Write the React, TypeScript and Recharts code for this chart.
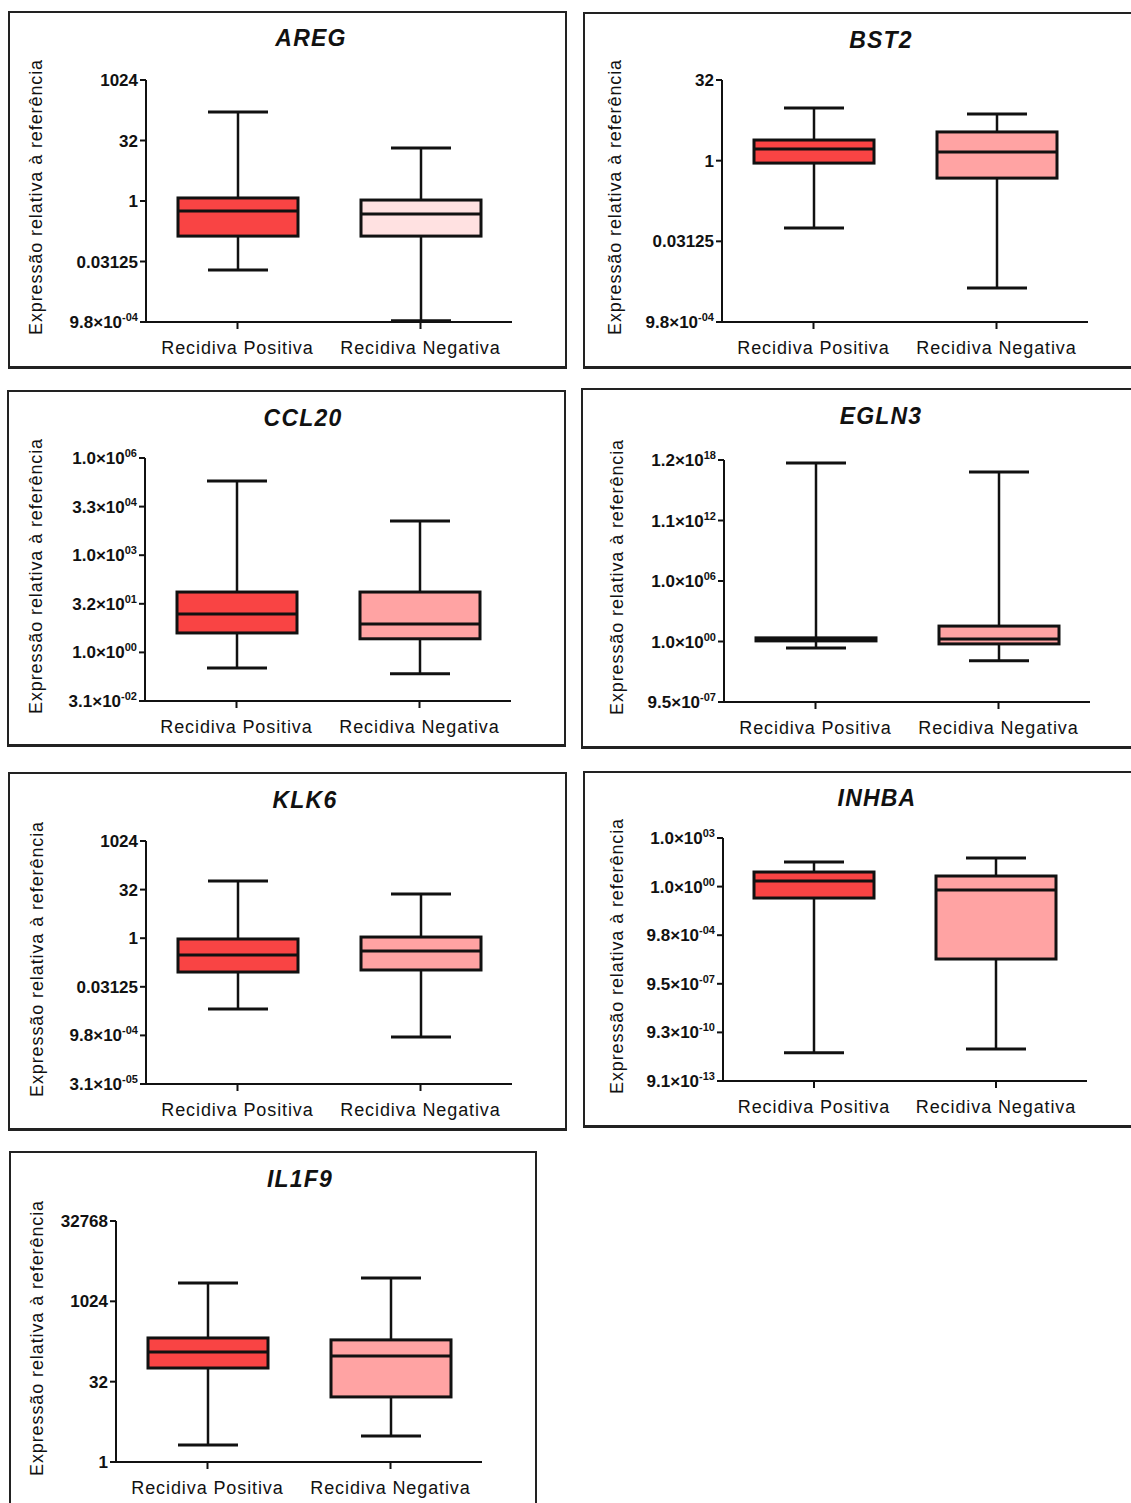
import React from 'react';
import { ComposedChart, Bar, XAxis, YAxis } from 'recharts';

const groups = ['Recidiva Positiva', 'Recidiva Negativa'];

// log2 da expressão relativa: [mínimo, Q1, mediana, Q3, máximo]
const aregPositiva = [-5.7, -2.9, -0.83, 0.25, 7.36];
const aregNegativa = [-9.9, -2.9, -1.07, 0.08, 4.38];
const aregTicks = [-10, -5, 0, 5, 10];
const aregLabels = ['9.8×10^-04', '0.03125', '1', '32', '1024'];

const bst2Positiva = [-4.18, -0.15, 0.72, 1.28, 3.26];
const bst2Negativa = [-7.9, -1.08, 0.54, 1.78, 2.89];
const bst2Ticks = [-10, -5, 0, 5];
const bst2Labels = ['9.8×10^-04', '0.03125', '1', '32'];

const ccl20Positiva = [-1.6, 2.0, 3.95, 6.21, 17.63];
const ccl20Negativa = [-2.2, 1.4, 2.92, 6.21, 13.52];
const ccl20Ticks = [-5, 0, 5, 10, 15, 20];
const ccl20Labels = ['3.1×10^-02', '1.0×10^00', '3.2×10^01', '1.0×10^03', '3.3×10^04', '1.0×10^06'];

const egln3Positiva = [-2.15, 0.2, 0.7, 1.2, 59];
const egln3Negativa = [-6.4, -0.8, 0.8, 5.1, 56];
const egln3Ticks = [-20, 0, 20, 40, 60];
const egln3Labels = ['9.5×10^-07', '1.0×10^00', '1.0×10^06', '1.1×10^12', '1.2×10^18'];

const klk6Positiva = [-7.28, -3.48, -1.73, -0.08, 5.88];
const klk6Negativa = [-10.16, -3.27, -1.32, 0.12, 4.55];
const klk6Ticks = [-15, -10, -5, 0, 5, 10];
const klk6Labels = ['3.1×10^-05', '9.8×10^-04', '0.03125', '1', '32', '1024'];

const inhbaPositiva = [-34.2, -2.35, 1.15, 3.0, 5.06];
const inhbaNegativa = [-33.4, -14.9, -0.7, 2.18, 5.88];
const inhbaTicks = [-40, -30, -20, -10, 0, 10];
const inhbaLabels = ['9.1×10^-13', '9.3×10^-10', '9.5×10^-07', '9.8×10^-04', '1.0×10^00', '1.0×10^03'];

const il1f9Positiva = [1.06, 5.85, 6.85, 7.72, 11.14];
const il1f9Negativa = [1.62, 4.05, 6.6, 7.6, 11.45];
const il1f9Ticks = [0, 5, 10, 15];
const il1f9Labels = ['1', '32', '1024', '32768'];

const FONT = '"Liberation Sans", Arial, Helvetica, sans-serif';
const RED = '#F94444';
const PINK = '#FFA3A3';
const LIGHT_PINK = '#FFE1E1';
const INK = '#111';
const BOX_W = 120;

const panels = [
  { name: 'AREG', pos: aregPositiva, neg: aregNegativa, ticks: aregTicks, labels: aregLabels, negFill: LIGHT_PINK,
    box: { x: 8, y: 11, w: 559, h: 358 }, plot: { l: 146, t: 80, r: 512, b: 322 }, title: { x: 311, y: 38 }, labelX: 36 },
  { name: 'BST2', pos: bst2Positiva, neg: bst2Negativa, ticks: bst2Ticks, labels: bst2Labels, negFill: PINK,
    box: { x: 583, y: 12, w: 560, h: 357 }, plot: { l: 722, t: 80, r: 1088, b: 322 }, title: { x: 881, y: 40 }, labelX: 615 },
  { name: 'CCL20', pos: ccl20Positiva, neg: ccl20Negativa, ticks: ccl20Ticks, labels: ccl20Labels, negFill: PINK,
    box: { x: 7, y: 390, w: 559, h: 357 }, plot: { l: 145, t: 458, r: 511, b: 701 }, title: { x: 303, y: 418 }, labelX: 36 },
  { name: 'EGLN3', pos: egln3Positiva, neg: egln3Negativa, ticks: egln3Ticks, labels: egln3Labels, negFill: PINK,
    box: { x: 581, y: 388, w: 560, h: 361 }, plot: { l: 724, t: 460, r: 1090, b: 702 }, title: { x: 881, y: 416 }, labelX: 617 },
  { name: 'KLK6', pos: klk6Positiva, neg: klk6Negativa, ticks: klk6Ticks, labels: klk6Labels, negFill: PINK,
    box: { x: 8, y: 772, w: 559, h: 359 }, plot: { l: 146, t: 841, r: 512, b: 1084 }, title: { x: 305, y: 800 }, labelX: 37 },
  { name: 'INHBA', pos: inhbaPositiva, neg: inhbaNegativa, ticks: inhbaTicks, labels: inhbaLabels, negFill: PINK,
    box: { x: 583, y: 771, w: 560, h: 357 }, plot: { l: 723, t: 838, r: 1087, b: 1081 }, title: { x: 877, y: 798 }, labelX: 617 },
  { name: 'IL1F9', pos: il1f9Positiva, neg: il1f9Negativa, ticks: il1f9Ticks, labels: il1f9Labels, negFill: PINK,
    box: { x: 9, y: 1151, w: 528, h: 360 }, plot: { l: 116, t: 1221, r: 482, b: 1462 }, title: { x: 300, y: 1179 }, labelX: 37 },
];

function YTick(props: any) {
  const { x, y, payload, ticks, labels } = props;
  const label: string = labels[ticks.indexOf(payload.value)] ?? '';
  const [base, exp] = label.split('^');
  return (
    <text x={x} y={y} dy={6} textAnchor="end" fontFamily={FONT} fontWeight="bold" fontSize={17} fill={INK}>
      {base}
      {exp && (
        <tspan fontSize={11} dy={-7}>
          {exp}
        </tspan>
      )}
    </text>
  );
}

function XTick(props: any) {
  const { x, y, payload } = props;
  return (
    <text x={x} y={y} dy={23} textAnchor="middle" fontFamily={FONT} fontSize={18} letterSpacing={0.9} fill={INK}>
      {payload.value}
    </text>
  );
}

const Whisker = (props: any) => {
  const { x, y, width, height } = props;
  const cx = x + width / 2;
  return (
    <g stroke={INK} fill="none">
      <line x1={cx} x2={cx} y1={y} y2={y + height} strokeWidth={2.5} />
      <line x1={cx - 30} x2={cx + 30} y1={y} y2={y} strokeWidth={3} />
      <line x1={cx - 30} x2={cx + 30} y1={y + height} y2={y + height} strokeWidth={3} />
    </g>
  );
};

const BoxShape = (props: any) => {
  const { x, y, width, height, payload } = props;
  return <rect x={x} y={y} width={width} height={Math.max(height, 0)} fill={payload.fill} stroke={INK} strokeWidth={3} />;
};

const MedianShape = (props: any) => {
  const { x, y, width } = props;
  return <line x1={x} x2={x + width} y1={y} y2={y} stroke={INK} strokeWidth={3} />;
};

function Panel({ p }: { p: (typeof panels)[number] }) {
  const rows = groups.map((g, i) => {
    const v = i === 0 ? p.pos : p.neg;
    return { name: g, min: v[0], q1: v[1], med: v[2], q3: v[3], max: v[4], fill: i === 0 ? RED : p.negFill };
  });
  const yAxisW = 80;
  const xAxisH = 40;
  const margin = {
    top: p.plot.t - p.box.y,
    left: p.plot.l - p.box.x - yAxisW,
    right: p.box.x + p.box.w - p.plot.r,
    bottom: p.box.y + p.box.h - p.plot.b - xAxisH,
  };
  const domain = [p.ticks[0], p.ticks[p.ticks.length - 1]];
  const plotMidY = (p.plot.t + p.plot.b) / 2;

  return (
    <>
      <div
        style={{
          position: 'absolute',
          left: p.box.x,
          top: p.box.y,
          width: p.box.w,
          height: p.box.h,
          boxSizing: 'border-box',
          border: '2px solid #222',
          borderBottomWidth: 3,
          background: '#fff',
        }}
      />
      <div
        style={{
          position: 'absolute',
          left: p.title.x,
          top: p.title.y,
          transform: 'translate(-50%, -50%)',
          fontFamily: FONT,
          fontSize: 23,
          fontWeight: 'bold',
          fontStyle: 'italic',
          letterSpacing: 1.2,
          color: INK,
          whiteSpace: 'nowrap',
        }}
      >
        {p.name}
      </div>
      <div
        style={{
          position: 'absolute',
          left: p.labelX,
          top: plotMidY - 4,
          transform: 'translate(-50%, -50%) rotate(-90deg)',
          fontFamily: FONT,
          fontSize: 18,
          letterSpacing: 0.9,
          color: INK,
          whiteSpace: 'nowrap',
        }}
      >
        Expressão relativa à referência
      </div>
      <div style={{ position: 'absolute', left: p.box.x, top: p.box.y }}>
        <ComposedChart width={p.box.w} height={p.box.h} data={rows} margin={margin} barSize={BOX_W} barGap={-BOX_W}>
          <XAxis
            dataKey="name"
            height={xAxisH}
            axisLine={{ stroke: INK, strokeWidth: 2 }}
            tickLine={{ stroke: INK, strokeWidth: 2 }}
            tickSize={7}
            tick={<XTick />}
            interval={0}
          />
          <YAxis
            type="number"
            width={yAxisW}
            domain={domain}
            ticks={p.ticks}
            interval={0}
            allowDataOverflow
            axisLine={{ stroke: INK, strokeWidth: 2 }}
            tickLine={{ stroke: INK, strokeWidth: 2 }}
            tickSize={6}
            tick={(tp: any) => <YTick {...tp} ticks={p.ticks} labels={p.labels} />}
          />
          <Bar dataKey={(d: any) => [d.min, d.max]} barSize={BOX_W} shape={<Whisker />} isAnimationActive={false} />
          <Bar dataKey={(d: any) => [d.q1, d.q3]} barSize={BOX_W} shape={<BoxShape />} isAnimationActive={false} />
          <Bar dataKey={(d: any) => [d.med, d.med]} barSize={BOX_W} shape={<MedianShape />} isAnimationActive={false} />
        </ComposedChart>
      </div>
    </>
  );
}

export default function App() {
  return (
    <div style={{ position: 'absolute', left: 0, top: 0, width: 1131, height: 1503, background: '#fff', overflow: 'hidden' }}>
      {panels.map((p) => (
        <Panel key={p.name} p={p} />
      ))}
    </div>
  );
}
